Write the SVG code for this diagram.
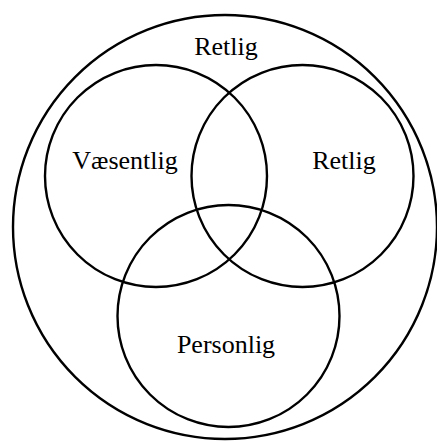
<svg xmlns="http://www.w3.org/2000/svg" width="437" height="441" viewBox="0 0 437 441">
<style>
.c{fill:none;stroke:#000;stroke-width:2.4}
.t{font-family:"Liberation Serif","Times New Roman",serif;font-size:26px;fill:#000;text-anchor:middle}
</style>
<rect width="437" height="441" fill="#fff"/>
<g id="outer"><circle class="c" cx="225" cy="227" r="212"/><text class="t" x="226" y="55">Retlig</text></g>
<g id="vaesentlig"><circle class="c" cx="156" cy="176" r="111"/><text class="t" x="125" y="169">Væsentlig</text></g>
<g id="retlig"><circle class="c" cx="302.5" cy="176" r="111"/><text class="t" x="344" y="169">Retlig</text></g>
<g id="personlig"><circle class="c" cx="228.5" cy="316" r="111"/><text class="t" x="226" y="353">Personlig</text></g>
<g id="connectors"></g>
</svg>
